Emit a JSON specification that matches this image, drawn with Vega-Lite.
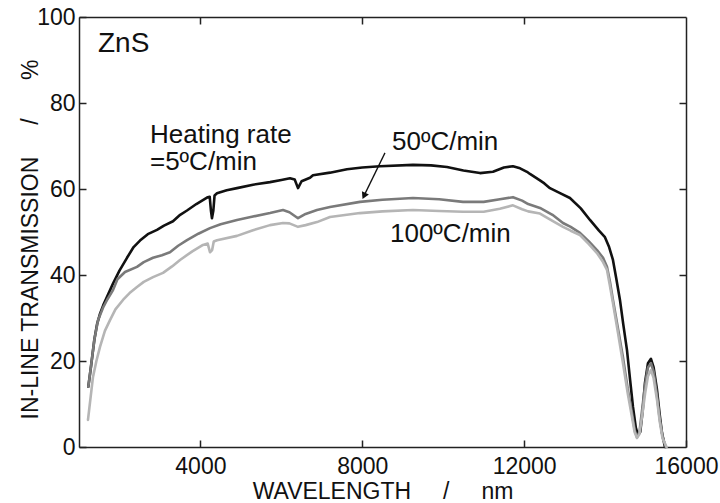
{
  "$schema": "https://vega.github.io/schema/vega-lite/v6.json",
  "width": 607,
  "height": 430,
  "autosize": {"type": "none"},
  "padding": {"left": 79, "top": 17, "right": 34, "bottom": 56},
  "background": "white",
  "config": {
    "view": {"stroke": null},
    "font": "Liberation Sans",
    "axis": {
      "labelFont": "Liberation Sans",
      "labelFontSize": 23,
      "labelColor": "#111",
      "titleFont": "Liberation Sans",
      "titleFontSize": 23,
      "titleFontWeight": "normal",
      "titleColor": "#111",
      "domainColor": "#222",
      "domainWidth": 1.5,
      "tickColor": "#222",
      "tickWidth": 1.5,
      "tickSize": -7,
      "grid": false
    }
  },
  "datasets": {
    "spectra": [
      {"series": "5", "w": 1230, "t": 14},
      {"series": "5", "w": 1300, "t": 19},
      {"series": "5", "w": 1380, "t": 25},
      {"series": "5", "w": 1445, "t": 28.5},
      {"series": "5", "w": 1520, "t": 31},
      {"series": "5", "w": 1600, "t": 33},
      {"series": "5", "w": 1720, "t": 35.5},
      {"series": "5", "w": 1840, "t": 38},
      {"series": "5", "w": 2000, "t": 41},
      {"series": "5", "w": 2186, "t": 44},
      {"series": "5", "w": 2350, "t": 46.5},
      {"series": "5", "w": 2507, "t": 48},
      {"series": "5", "w": 2700, "t": 49.5},
      {"series": "5", "w": 2927, "t": 50.5},
      {"series": "5", "w": 3100, "t": 51.5},
      {"series": "5", "w": 3323, "t": 52.5},
      {"series": "5", "w": 3500, "t": 54},
      {"series": "5", "w": 3669, "t": 55},
      {"series": "5", "w": 3900, "t": 56.5},
      {"series": "5", "w": 4163, "t": 58},
      {"series": "5", "w": 4230, "t": 58.2},
      {"series": "5", "w": 4260, "t": 55},
      {"series": "5", "w": 4286, "t": 53.2},
      {"series": "5", "w": 4320, "t": 55},
      {"series": "5", "w": 4350, "t": 58.5},
      {"series": "5", "w": 4410, "t": 59},
      {"series": "5", "w": 4650, "t": 59.7},
      {"series": "5", "w": 4904, "t": 60.2},
      {"series": "5", "w": 5300, "t": 61},
      {"series": "5", "w": 5720, "t": 61.6},
      {"series": "5", "w": 6000, "t": 62.1},
      {"series": "5", "w": 6214, "t": 62.5},
      {"series": "5", "w": 6330, "t": 62.2},
      {"series": "5", "w": 6412, "t": 60.2},
      {"series": "5", "w": 6500, "t": 61.8},
      {"series": "5", "w": 6708, "t": 62.6},
      {"series": "5", "w": 6782, "t": 63.2},
      {"series": "5", "w": 7202, "t": 63.8},
      {"series": "5", "w": 7622, "t": 64.6},
      {"series": "5", "w": 8000, "t": 65},
      {"series": "5", "w": 8438, "t": 65.3},
      {"series": "5", "w": 9253, "t": 65.6},
      {"series": "5", "w": 9700, "t": 65.5},
      {"series": "5", "w": 10093, "t": 65.1},
      {"series": "5", "w": 10500, "t": 64.3},
      {"series": "5", "w": 10909, "t": 63.7},
      {"series": "5", "w": 11230, "t": 64},
      {"series": "5", "w": 11500, "t": 65},
      {"series": "5", "w": 11724, "t": 65.3},
      {"series": "5", "w": 11900, "t": 64.8},
      {"series": "5", "w": 12070, "t": 64},
      {"series": "5", "w": 12144, "t": 63.5},
      {"series": "5", "w": 12391, "t": 62},
      {"series": "5", "w": 12500, "t": 61.3},
      {"series": "5", "w": 12638, "t": 60.2},
      {"series": "5", "w": 12900, "t": 59},
      {"series": "5", "w": 13132, "t": 57.9},
      {"series": "5", "w": 13400, "t": 55.5},
      {"series": "5", "w": 13627, "t": 52.8},
      {"series": "5", "w": 13850, "t": 50.3},
      {"series": "5", "w": 13997, "t": 48.8},
      {"series": "5", "w": 14100, "t": 46.5},
      {"series": "5", "w": 14195, "t": 43.5},
      {"series": "5", "w": 14280, "t": 39},
      {"series": "5", "w": 14368, "t": 34.2},
      {"series": "5", "w": 14450, "t": 28.5},
      {"series": "5", "w": 14541, "t": 22.6},
      {"series": "5", "w": 14620, "t": 15.5},
      {"series": "5", "w": 14690, "t": 9.3},
      {"series": "5", "w": 14760, "t": 4.5},
      {"series": "5", "w": 14813, "t": 2.8},
      {"series": "5", "w": 14870, "t": 3.5},
      {"series": "5", "w": 14930, "t": 8.5},
      {"series": "5", "w": 14986, "t": 14.9},
      {"series": "5", "w": 15060, "t": 19.5},
      {"series": "5", "w": 15134, "t": 20.5},
      {"series": "5", "w": 15200, "t": 18.5},
      {"series": "5", "w": 15283, "t": 13.3},
      {"series": "5", "w": 15350, "t": 7.5},
      {"series": "5", "w": 15406, "t": 3.3},
      {"series": "5", "w": 15480, "t": 0},

      {"series": "50", "w": 1230, "t": 14},
      {"series": "50", "w": 1300, "t": 19},
      {"series": "50", "w": 1380, "t": 25},
      {"series": "50", "w": 1470, "t": 29.5},
      {"series": "50", "w": 1593, "t": 32.4},
      {"series": "50", "w": 1700, "t": 34.3},
      {"series": "50", "w": 1840, "t": 36.5},
      {"series": "50", "w": 1950, "t": 39},
      {"series": "50", "w": 2137, "t": 40.7},
      {"series": "50", "w": 2433, "t": 41.9},
      {"series": "50", "w": 2600, "t": 43},
      {"series": "50", "w": 2829, "t": 44},
      {"series": "50", "w": 3050, "t": 44.6},
      {"series": "50", "w": 3248, "t": 45.3},
      {"series": "50", "w": 3450, "t": 46.8},
      {"series": "50", "w": 3669, "t": 48.1},
      {"series": "50", "w": 3950, "t": 49.6},
      {"series": "50", "w": 4237, "t": 50.9},
      {"series": "50", "w": 4500, "t": 51.8},
      {"series": "50", "w": 4904, "t": 52.8},
      {"series": "50", "w": 5300, "t": 53.6},
      {"series": "50", "w": 5720, "t": 54.4},
      {"series": "50", "w": 6041, "t": 55.1},
      {"series": "50", "w": 6200, "t": 54.6},
      {"series": "50", "w": 6412, "t": 53.2},
      {"series": "50", "w": 6600, "t": 54.2},
      {"series": "50", "w": 6881, "t": 55.1},
      {"series": "50", "w": 7202, "t": 55.8},
      {"series": "50", "w": 7943, "t": 57.0},
      {"series": "50", "w": 8500, "t": 57.5},
      {"series": "50", "w": 9253, "t": 57.9},
      {"series": "50", "w": 9900, "t": 57.6},
      {"series": "50", "w": 10489, "t": 57.0},
      {"series": "50", "w": 11000, "t": 57.0},
      {"series": "50", "w": 11400, "t": 57.6},
      {"series": "50", "w": 11724, "t": 58.1},
      {"series": "50", "w": 11950, "t": 57.3},
      {"series": "50", "w": 12100, "t": 56.5},
      {"series": "50", "w": 12391, "t": 55.6},
      {"series": "50", "w": 12700, "t": 54},
      {"series": "50", "w": 12960, "t": 52.1},
      {"series": "50", "w": 13150, "t": 51.2},
      {"series": "50", "w": 13380, "t": 49.8},
      {"series": "50", "w": 13600, "t": 47.8},
      {"series": "50", "w": 13800, "t": 45.8},
      {"series": "50", "w": 13950, "t": 44},
      {"series": "50", "w": 14047, "t": 41.9},
      {"series": "50", "w": 14120, "t": 38.5},
      {"series": "50", "w": 14195, "t": 34.2},
      {"series": "50", "w": 14320, "t": 27.5},
      {"series": "50", "w": 14442, "t": 20.9},
      {"series": "50", "w": 14560, "t": 13.5},
      {"series": "50", "w": 14665, "t": 7.9},
      {"series": "50", "w": 14730, "t": 4},
      {"series": "50", "w": 14788, "t": 2.3},
      {"series": "50", "w": 14850, "t": 3.5},
      {"series": "50", "w": 14920, "t": 9},
      {"series": "50", "w": 14990, "t": 14.5},
      {"series": "50", "w": 15060, "t": 18.5},
      {"series": "50", "w": 15134, "t": 19.5},
      {"series": "50", "w": 15200, "t": 17.5},
      {"series": "50", "w": 15283, "t": 12},
      {"series": "50", "w": 15350, "t": 6.5},
      {"series": "50", "w": 15420, "t": 2.5},
      {"series": "50", "w": 15500, "t": 0},

      {"series": "100", "w": 1222, "t": 6.3},
      {"series": "100", "w": 1280, "t": 11},
      {"series": "100", "w": 1346, "t": 16.3},
      {"series": "100", "w": 1430, "t": 20},
      {"series": "100", "w": 1519, "t": 23.3},
      {"series": "100", "w": 1640, "t": 27},
      {"series": "100", "w": 1766, "t": 29.5},
      {"series": "100", "w": 1900, "t": 32},
      {"series": "100", "w": 2087, "t": 34.2},
      {"series": "100", "w": 2250, "t": 35.8},
      {"series": "100", "w": 2433, "t": 37.2},
      {"series": "100", "w": 2600, "t": 38.4},
      {"series": "100", "w": 2829, "t": 39.5},
      {"series": "100", "w": 3076, "t": 40.5},
      {"series": "100", "w": 3300, "t": 42},
      {"series": "100", "w": 3496, "t": 43.5},
      {"series": "100", "w": 3800, "t": 45.5},
      {"series": "100", "w": 4064, "t": 47},
      {"series": "100", "w": 4180, "t": 47.3},
      {"series": "100", "w": 4237, "t": 45.3},
      {"series": "100", "w": 4290, "t": 45.8},
      {"series": "100", "w": 4330, "t": 47.8},
      {"series": "100", "w": 4410, "t": 48.1},
      {"series": "100", "w": 4904, "t": 49.1},
      {"series": "100", "w": 5300, "t": 50.4},
      {"series": "100", "w": 5720, "t": 51.6},
      {"series": "100", "w": 6041, "t": 52.1},
      {"series": "100", "w": 6200, "t": 52},
      {"series": "100", "w": 6412, "t": 51.2},
      {"series": "100", "w": 6600, "t": 51.6},
      {"series": "100", "w": 6881, "t": 52.3},
      {"series": "100", "w": 7202, "t": 53.5},
      {"series": "100", "w": 7943, "t": 54.4},
      {"series": "100", "w": 8500, "t": 54.8},
      {"series": "100", "w": 9253, "t": 55.1},
      {"series": "100", "w": 9900, "t": 54.9},
      {"series": "100", "w": 10489, "t": 54.7},
      {"series": "100", "w": 11000, "t": 54.7},
      {"series": "100", "w": 11400, "t": 55.4},
      {"series": "100", "w": 11724, "t": 56.2},
      {"series": "100", "w": 11950, "t": 55.3},
      {"series": "100", "w": 12100, "t": 54.8},
      {"series": "100", "w": 12391, "t": 54.3},
      {"series": "100", "w": 12700, "t": 52.6},
      {"series": "100", "w": 12960, "t": 51.2},
      {"series": "100", "w": 13150, "t": 50.3},
      {"series": "100", "w": 13380, "t": 49.3},
      {"series": "100", "w": 13600, "t": 47.2},
      {"series": "100", "w": 13800, "t": 45.1},
      {"series": "100", "w": 13950, "t": 43},
      {"series": "100", "w": 14047, "t": 41.2},
      {"series": "100", "w": 14120, "t": 37.5},
      {"series": "100", "w": 14195, "t": 33.5},
      {"series": "100", "w": 14320, "t": 26.5},
      {"series": "100", "w": 14442, "t": 19.5},
      {"series": "100", "w": 14560, "t": 12.5},
      {"series": "100", "w": 14665, "t": 7},
      {"series": "100", "w": 14730, "t": 3.5},
      {"series": "100", "w": 14788, "t": 2.1},
      {"series": "100", "w": 14850, "t": 3},
      {"series": "100", "w": 14920, "t": 7.5},
      {"series": "100", "w": 14990, "t": 12.5},
      {"series": "100", "w": 15060, "t": 16.5},
      {"series": "100", "w": 15134, "t": 17.9},
      {"series": "100", "w": 15200, "t": 16},
      {"series": "100", "w": 15283, "t": 11},
      {"series": "100", "w": 15350, "t": 6},
      {"series": "100", "w": 15420, "t": 2},
      {"series": "100", "w": 15520, "t": 0}
    ],
    "labels": [
      {"label": "Heating rate", "w": 2754, "t": 70.7},
      {"label": "=5ºC/min", "w": 2754, "t": 64.4},
      {"label": "50ºC/min", "w": 8734, "t": 69.1},
      {"label": "100ºC/min", "w": 8685, "t": 47.7}
    ],
    "title": [
      {"label": "ZnS", "w": 1470, "t": 91.9}
    ],
    "arrow": [
      {"w": 8561, "t": 68.4, "w2": 8042, "t2": 58.4}
    ]
  },
  "layer": [
    {
      "data": {"name": "spectra"},
      "mark": {"type": "line", "strokeWidth": 2.6, "strokeJoin": "round", "strokeCap": "round"},
      "encoding": {
        "x": {
          "field": "w", "type": "quantitative",
          "scale": {"domain": [1000, 16000], "nice": false, "zero": false},
          "axis": {
            "orient": "bottom",
            "values": [4000, 8000, 12000, 16000],
            "format": "d",
            "labelPadding": 15,
            "labelFlush": false,
            "labelOverlap": false,
            "title": "WAVELENGTH\u00a0\u00a0\u00a0\u00a0 /\u00a0\u00a0\u00a0\u00a0 nm",
            "titleY": 51,
            "titleBaseline": "alphabetic"
          }
        },
        "y": {
          "field": "t", "type": "quantitative",
          "scale": {"domain": [0, 100], "nice": false},
          "axis": {
            "orient": "left",
            "values": [0, 20, 40, 60, 80, 100],
            "labelPadding": 11,
            "labelFlush": false,
            "labelOverlap": false,
            "title": "IN-LINE TRANSMISSION\u00a0\u00a0\u00a0\u00a0 /\u00a0\u00a0\u00a0\u00a0\u00a0 %",
            "titleX": -42,
            "titleY": 222,
            "titleBaseline": "alphabetic"
          }
        },
        "color": {
          "field": "series", "type": "nominal",
          "scale": {"domain": ["5", "50", "100"], "range": ["#111111", "#7a7a7a", "#b5b5b5"]},
          "legend": null
        }
      }
    },
    {
      "data": {"name": "arrow"},
      "mark": {"type": "rule", "color": "#111", "strokeWidth": 1.3},
      "encoding": {
        "x": {"field": "w", "type": "quantitative", "axis": {"orient": "top", "values": [4000, 8000, 12000], "labels": false, "title": null}},
        "y": {"field": "t", "type": "quantitative", "axis": {"orient": "right", "values": [20, 40, 60, 80], "labels": false, "title": null}},
        "x2": {"field": "w2"},
        "y2": {"field": "t2"}
      }
    },
    {
      "data": {"name": "arrow"},
      "mark": {"type": "point", "shape": "triangle-up", "filled": true, "color": "#111", "size": 60, "angle": 206, "opacity": 1},
      "encoding": {
        "x": {"field": "w2", "type": "quantitative", "axis": null},
        "y": {"field": "t2", "type": "quantitative", "axis": null}
      }
    },
    {
      "data": {"name": "labels"},
      "mark": {"type": "text", "font": "Liberation Sans", "fontSize": 26, "color": "#111", "align": "left", "baseline": "alphabetic"},
      "encoding": {
        "x": {"field": "w", "type": "quantitative", "axis": null},
        "y": {"field": "t", "type": "quantitative", "axis": null},
        "text": {"field": "label"}
      }
    },
    {
      "data": {"name": "title"},
      "mark": {"type": "text", "font": "Liberation Sans", "fontSize": 28, "color": "#111", "align": "left", "baseline": "alphabetic"},
      "encoding": {
        "x": {"field": "w", "type": "quantitative", "axis": null},
        "y": {"field": "t", "type": "quantitative", "axis": null},
        "text": {"field": "label"}
      }
    }
  ],
  "resolve": {"axis": {"x": "independent", "y": "independent"}}
}
